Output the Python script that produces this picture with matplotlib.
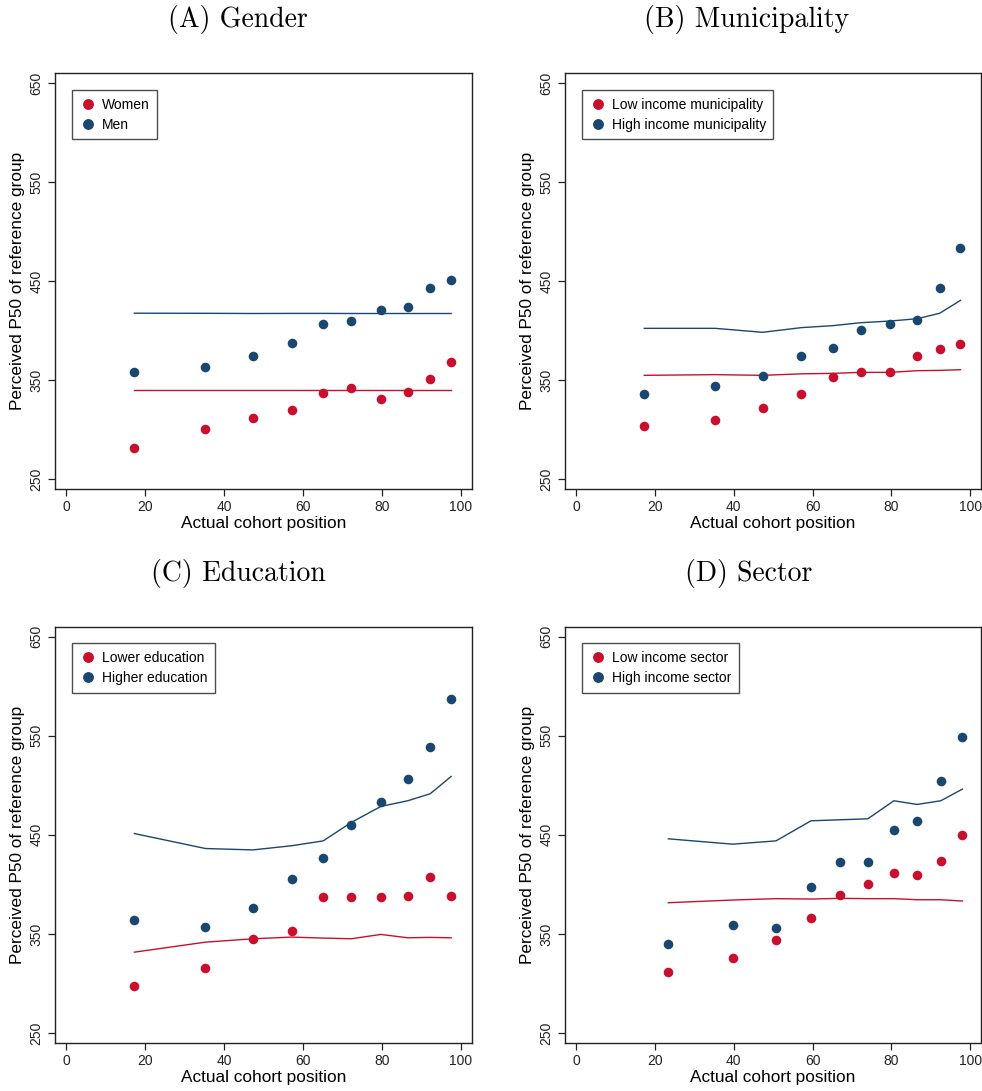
import matplotlib
matplotlib.use("Agg")
import matplotlib.pyplot as plt
from matplotlib.lines import Line2D

RED = "#C8102E"
BLUE = "#1A476F"

# ---------------- data ----------------
x_std = [17.3, 35.3, 47.3, 57.1, 65.1, 72.2, 79.7, 86.5, 92.2, 97.5]
x_sector = [23.4, 39.7, 50.7, 59.6, 66.9, 74.0, 80.6, 86.5, 92.5, 98.0]

# (A) Gender
women_pts = [281.0, 300.6, 311.3, 320.1, 337.0, 341.7, 331.2, 337.6, 351.4, 368.0]
women_line = [340.0, 340.0, 340.0, 340.0, 340.0, 340.0, 340.0, 340.0, 340.0, 340.0]
men_pts = [358.2, 362.9, 374.0, 387.2, 406.4, 410.1, 421.2, 423.9, 443.1, 451.2]
men_line = [417.6, 417.5, 417.3, 417.4, 417.4, 417.3, 417.3, 417.3, 417.3, 417.3]

# (B) Municipality
lowmun_pts = [303.6, 309.3, 321.4, 335.9, 353.1, 358.2, 358.2, 374.0, 381.1, 386.5]
lowmun_line = [354.8, 355.5, 354.8, 356.3, 356.8, 357.8, 357.8, 359.5, 359.8, 360.5]
highmun_pts = [336.3, 343.7, 353.8, 374.7, 382.4, 400.6, 406.4, 410.4, 442.8, 483.2]
highmun_line = [402.3, 402.3, 398.3, 403.0, 405.0, 408.0, 409.7, 412.0, 417.5, 430.6]

# (C) Education
lowedu_pts = [297.6, 316.1, 344.8, 353.2, 386.9, 387.6, 387.6, 388.6, 407.5, 388.0]
lowedu_line = [331.6, 341.7, 345.1, 346.8, 345.8, 345.1, 349.5, 346.1, 346.5, 346.1]
highedu_pts = [364.3, 356.9, 375.8, 405.5, 426.7, 460.1, 483.1, 506.7, 539.0, 587.3]
highedu_line = [451.3, 436.2, 434.8, 439.0, 443.9, 462.5, 478.7, 484.4, 491.5, 509.0]

# (D) Sector
lowsec_pts = [311.4, 325.9, 343.8, 366.4, 389.0, 400.1, 411.2, 409.5, 423.4, 450.3]
lowsec_line = [381.5, 384.2, 385.6, 385.2, 385.9, 385.6, 385.6, 384.5, 384.5, 383.2]
highsec_pts = [339.7, 358.9, 355.9, 397.0, 422.7, 423.1, 455.4, 463.5, 504.0, 548.8]
highsec_line = [446.0, 440.6, 443.9, 464.2, 465.2, 466.2, 484.4, 480.7, 484.4, 496.2]

titles = ["(A) Gender", "(B) Municipality", "(C) Education", "(D) Sector"]
legend_labels = [
    ["Women", "Men"],
    ["Low income municipality", "High income municipality"],
    ["Lower education", "Higher education"],
    ["Low income sector", "High income sector"],
]
xticks = [0, 20, 40, 60, 80, 100]
yticks = [250, 350, 450, 550, 650]
xlabel = "Actual cohort position"
ylabel = "Perceived P50 of reference group"

panels = [
    (x_std, women_pts, women_line, men_pts, men_line),
    (x_std, lowmun_pts, lowmun_line, highmun_pts, highmun_line),
    (x_std, lowedu_pts, lowedu_line, highedu_pts, highedu_line),
    (x_sector, lowsec_pts, lowsec_line, highsec_pts, highsec_line),
]

# ---------------- figure ----------------
W, H = 982, 1091
fig = plt.figure(figsize=(W / 100, H / 100), dpi=100)
plt.rcParams["font.family"] = ["Liberation Sans", "DejaVu Sans"]

# pixel boxes (left, top, right, bottom)
boxes = [
    (55, 73.3, 471.7, 489.3),
    (565, 73.3, 981.0, 489.3),
    (55, 626.7, 471.7, 1043.3),
    (565, 626.7, 981.0, 1043.3),
]
title_pos = [(238, 20), (747, 20), (238, 573), (749, 573)]

for i, (box, data) in enumerate(zip(boxes, panels)):
    l, t, r, b = box
    ax = fig.add_axes([l / W, 1 - b / H, (r - l) / W, (b - t) / H])
    xs, p1, l1, p2, l2 = data
    ax.plot(xs, l1, color=RED, lw=1.0, zorder=2)
    ax.plot(xs, l2, color=BLUE, lw=1.0, zorder=2)
    ax.scatter(xs, p1, s=48, color=RED, zorder=3, linewidths=0)
    ax.scatter(xs, p2, s=48, color=BLUE, zorder=3, linewidths=0)

    ax.set_xlim(-2.8, 102.7)
    ax.set_ylim(239.6, 660.1)
    ax.set_xticks(xticks)
    ax.set_yticks(yticks)
    ax.tick_params(axis="both", direction="out", length=4.8, width=0.9,
                   labelsize=10, colors="#222222")
    ax.tick_params(axis="x", pad=3)
    ax.tick_params(axis="y", pad=3.5)
    for lab in ax.get_yticklabels():
        lab.set_rotation(90)
        lab.set_va("center")
        lab.set_ha("right")
    for sp in ax.spines.values():
        sp.set_linewidth(1.0)
        sp.set_color("#222222")

    ax.set_xlabel(xlabel, fontsize=12.4)
    ax.set_ylabel(ylabel, fontsize=12.4)
    ax.xaxis.set_label_coords(0.5, -0.063)
    ax.yaxis.set_label_coords(-0.072, 0.5)

    handles = [
        Line2D([], [], ls="none", marker="o", color=RED, markersize=6.8),
        Line2D([], [], ls="none", marker="o", color=BLUE, markersize=6.8),
    ]
    leg = ax.legend(handles, legend_labels[i], loc="upper left", fontsize=10,
                    frameon=True, fancybox=False, borderaxespad=1.2,
                    handletextpad=0.4, handlelength=1.2, borderpad=0.55,
                    labelspacing=0.45)
    leg.get_frame().set_edgecolor("#222222")
    leg.get_frame().set_linewidth(1.0)

    tx, ty = title_pos[i]
    fig.text(tx / W, 1 - ty / H, titles[i], fontsize=20, family="cmr10",
             ha="center", va="center")

fig.savefig("out.png", dpi=100)
